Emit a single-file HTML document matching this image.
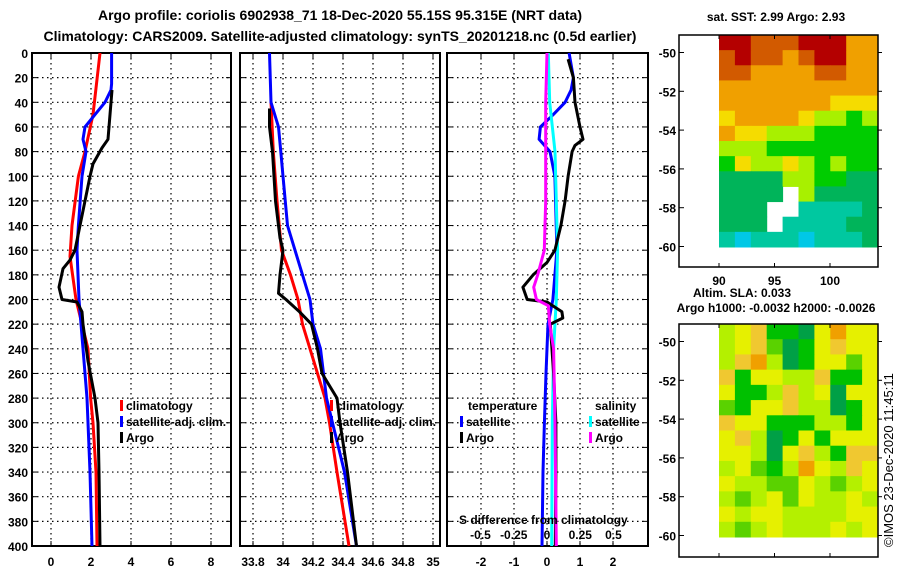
<!DOCTYPE html>
<html><head><meta charset="utf-8">
<style>
body{margin:0;background:#fff;}
svg{display:block;font-family:"Liberation Sans",sans-serif;font-weight:bold;}
text{fill:#000;}
</style></head>
<body>
<svg id="c" width="900" height="580" viewBox="0 0 900 580" xmlns="http://www.w3.org/2000/svg">
<text x="340" y="20" font-size="14" text-anchor="middle">Argo profile: coriolis 6902938_71 18-Dec-2020 55.15S 95.315E (NRT data)</text>
<text x="340" y="41" font-size="14" text-anchor="middle">Climatology: CARS2009. Satellite-adjusted climatology: synTS_20201218.nc (0.5d earlier)</text>
<g id="plots"></g>
</svg>
<script>
// ---- data ----
const tempClimDepth=[0,50,80,100,140,165,200,240,280,300,340,400];
const tempClim=[2.45,2.1,1.7,1.37,1.05,0.95,1.25,1.85,1.98,2.1,2.25,2.3];
const tempSatDepth=[0,25,30,40,50,60,70,80,100,140,160,200,240,280,300,340,400];
const tempSat=[3.03,3.03,3.0,2.7,2.2,1.7,1.6,1.75,1.55,1.37,1.3,1.4,1.6,1.8,1.85,1.95,2.05];
const tempArgoDepth=[30,50,70,77,90,100,120,140,160,168,175,190,200,202,210,220,250,280,300,340,400];
const tempArgo=[3.05,2.95,2.85,2.55,2.1,1.95,1.7,1.45,1.2,0.95,0.6,0.4,0.55,1.3,1.55,1.6,1.85,2.2,2.35,2.4,2.45];

const salSatDepth=[0,40,60,80,100,140,160,200,220,240,280,300,340,400];
const salSat=[33.91,33.92,33.97,33.985,34.0,34.03,34.08,34.18,34.2,34.25,34.29,34.33,34.41,34.49];
const salClimDepth=[40,80,120,160,180,200,220,240,260,280,300,340,400];
const salClim=[33.92,33.935,33.96,33.99,34.05,34.1,34.13,34.18,34.23,34.28,34.31,34.36,34.44];
const salArgoDepth=[45,60,80,120,150,160,180,195,200,210,220,240,260,280,300,340,400];
const salArgo=[33.91,33.91,33.93,33.95,33.98,34.0,33.98,33.97,34.02,34.11,34.19,34.23,34.26,34.36,34.38,34.43,34.49];

const dTsatDepth=[0,20,30,40,50,60,70,80,100,160,200,220,260,300,340,400];
const dTsat=[0.67,0.8,0.73,0.55,0.19,-0.2,-0.24,0.09,0.24,0.3,0.18,0.03,-0.03,-0.08,-0.12,-0.15];
const dTargoDepth=[5,20,40,60,70,75,80,100,120,140,160,170,180,190,200,202,210,215,220,260,300,340,400];
const dTargo=[0.64,0.8,0.85,1.0,1.09,0.85,0.76,0.64,0.55,0.42,0.24,0.0,-0.42,-0.73,-0.6,0.0,0.45,0.48,0.1,0.2,0.27,0.27,0.25];
const dSsatDepth=[0,40,80,120,160,200,240,300,400];
const dSsat=[0.01,0.02,0.06,0.07,0.08,0.07,0.05,0.04,0.035];
const dSargoDepth=[0,40,120,160,180,190,200,205,220,240,300,400];
const dSargo=[0,-0.01,-0.01,-0.02,-0.07,-0.1,-0.08,0.01,0.02,0.05,0.06,0.07];

const depthTicks=[0,20,40,60,80,100,120,140,160,180,200,220,240,260,280,300,320,340,360,380,400];
const tTicks=[0,2,4,6,8];
const sTicks=[33.8,34,34.2,34.4,34.6,34.8,35];
const sTickLabels=["33.8","34","34.2","34.4","34.6","34.8","35"];
const dTicks=[-2,-1,0,1,2];
const dsTicks=[-0.5,-0.25,0,0.25,0.5];
const dsTickLabels=["-0.5","-0.25","0","0.25","0.5"];

const sstGrid=[
[0,0,1,1,1,0,0,0,2,2],
[1,0,1,1,2,1,0,0,2,2],
[1,1,2,2,2,2,1,1,2,2],
[2,2,2,2,2,2,2,2,2,2],
[2,2,2,2,2,2,2,3,3,3],
[3,2,2,2,2,3,4,4,5,4],
[2,3,3,4,4,4,5,5,5,5],
[4,4,4,5,5,5,5,5,5,5],
[5,3,4,4,3,4,5,4,5,5],
[6,6,6,6,4,4,5,5,6,6],
[6,6,6,6,-1,4,6,6,6,6],
[6,6,6,-1,-1,7,7,7,7,6],
[6,6,6,-1,7,7,7,7,6,6],
[7,8,7,7,7,8,7,7,7,6]];
const slaGrid=[
[3,2,1,5,5,6,2,0,2,2],
[3,2,1,4,6,5,2,1,2,2],
[3,1,0,3,6,5,2,2,4,2],
[1,5,2,2,3,3,1,5,5,2],
[2,5,5,3,1,3,2,6,2,2],
[4,5,2,2,1,3,3,6,5,2],
[1,2,2,5,5,5,3,3,5,2],
[2,1,3,6,5,2,5,2,2,2],
[2,2,3,6,2,1,3,5,1,1],
[3,2,4,5,3,0,2,3,1,2],
[2,3,3,4,4,2,3,4,3,2],
[3,4,3,2,4,2,3,3,2,3],
[2,3,2,2,3,3,3,3,2,2],
[3,4,3,2,3,3,3,2,3,2]];
const latTicks=[-50,-52,-54,-56,-58,-60];
const lonTicks=[90,95,100];

// ---- drawing ----
const NS='http://www.w3.org/2000/svg';
const root=document.getElementById('plots');
function mk(tag,attrs,parent){const e=document.createElementNS(NS,tag);for(const k in attrs)e.setAttribute(k,attrs[k]);(parent||root).appendChild(e);return e;}
const Y0=53,Y1=546;
const yD=d=>Y0+(d/400)*(Y1-Y0);

function panel(name,x0,x1,xs,xt,xl){
  const g=mk('g',{});
  
  
  depthTicks.forEach(d=>{if(d>0&&d<400)mk('line',{x1:x0,x2:x1,y1:yD(d),y2:yD(d),stroke:'#000','stroke-width':1.2,'stroke-dasharray':'1.5 3.5'},g);
    mk('line',{x1:x0,x2:x0+5,y1:yD(d),y2:yD(d),stroke:'#000','stroke-width':1},g);
    mk('line',{x1:x1-5,x2:x1,y1:yD(d),y2:yD(d),stroke:'#000','stroke-width':1},g);});
  xt.forEach((v,i)=>{const x=xs(v);mk('line',{x1:x,x2:x,y1:Y0,y2:Y1,stroke:'#000','stroke-width':1.2,'stroke-dasharray':'1.5 3.5'},g);
    mk('line',{x1:x,x2:x,y1:Y1-5,y2:Y1,stroke:'#000'},g);mk('line',{x1:x,x2:x,y1:Y0,y2:Y0+5,stroke:'#000'},g);
    const t=mk('text',{x:x,y:566,'font-size':12,'text-anchor':'middle'},g);t.textContent=xl[i];
    
    });
  mk('rect',{x:x0,y:Y0,width:x1-x0,height:Y1-Y0,fill:'none',stroke:'#000','stroke-width':2},g);
  return g;
}
function line(g,xs,depths,vals,color,name){
  const pts=depths.map((d,i)=>xs(vals[i]).toFixed(1)+','+yD(d).toFixed(1)).join(' ');
  const p=mk('polyline',{points:pts,fill:'none',stroke:color,'stroke-width':3,'stroke-linejoin':'round'},g);
  
  
}
function txt(g,x,y,s,name,anchor,size){const t=mk('text',{x:x,y:y,'font-size':size||12,'text-anchor':anchor||'start'},g);t.textContent=s;
  
  return t;}
function legend(g,x,y,color,label,name){const r=mk('rect',{x:x,y:y-10,width:3,height:11,fill:color},g);txt(g,x+6,y,label,name);}

// y labels
depthTicks.forEach(d=>{const t=mk('text',{x:28,y:yD(d)+5,'font-size':12,'text-anchor':'end'});t.textContent=d;
  
  });

// Panel 1
const xT=v=>51+v*20;
const g1=panel('temperature-panel',32,231,xT,tTicks,tTicks.map(String));
line(g1,xT,tempClimDepth,tempClim,'#f00','temp-climatology-line');
line(g1,xT,tempSatDepth,tempSat,'#00f','temp-satellite-line');
line(g1,xT,tempArgoDepth,tempArgo,'#000','temp-argo-line');
legend(g1,120,410,'#f00','climatology','legend-climatology');
legend(g1,120,426,'#00f','satellite-adj. clim.','legend-satellite');
legend(g1,120,442,'#000','Argo','legend-argo');

// Panel 2
const xS=v=>253+(v-33.8)*150;
const g2=panel('salinity-panel',240,440,xS,sTicks,sTickLabels);
line(g2,xS,salClimDepth,salClim,'#f00','sal-climatology-line');
line(g2,xS,salSatDepth,salSat,'#00f','sal-satellite-line');
line(g2,xS,salArgoDepth,salArgo,'#000','sal-argo-line');
legend(g2,330,410,'#f00','climatology','legend-climatology');
legend(g2,330,426,'#00f','satellite-adj. clim.','legend-satellite');
legend(g2,330,442,'#000','Argo','legend-argo');

// Panel 3
const xDT=v=>547+v*33;
const xDS=v=>547+v*133;
const g3=panel('difference-panel',447,648,xDT,dTicks,dTicks.map(String));
line(g3,xDT,dTsatDepth,dTsat,'#00f','dT-satellite-line');
line(g3,xDS,dSsatDepth,dSsat,'#0ff','dS-satellite-line');
line(g3,xDT,dTargoDepth,dTargo,'#000','dT-argo-line');
line(g3,xDS,dSargoDepth,dSargo,'#f0f','dS-argo-line');
txt(g3,468,410,'temperature','legend-temperature-header');
legend(g3,460,426,'#00f','satellite','legend-temp-satellite');
legend(g3,460,442,'#000','Argo','legend-temp-argo');
txt(g3,595,410,'salinity','legend-salinity-header');
legend(g3,589,426,'#0ff','satellite','legend-sal-satellite');
legend(g3,589,442,'#f0f','Argo','legend-sal-argo');
txt(g3,459,524,'S difference from climatology','s-axis-title');
dsTicks.forEach((v,i)=>txt(g3,xDS(v),539,dsTickLabels[i],'s-tick-label','middle'));

// Maps
const sstColors=['#b40000','#d25a00','#f0a000','#f5dc00','#a8f000','#00cc00','#00b45a','#00c8a0','#00c8e6'];
const slaColors=['#f0a000','#f0c830','#e6f000','#b4f000','#5ad200','#00c000','#00a046'];
function map(name,grid,colors,top,imgBottom,boxBottom,showLon){
  const g=mk('g',{});
  
  
  const x0=719,x1=878,rows=grid.length,cols=grid[0].length;
  const cw=(x1-x0)/cols,rh=(imgBottom-top)/rows;
  grid.forEach((row,r)=>row.forEach((v,c)=>{if(v<0)return;
    const rc=mk('rect',{x:x0+c*cw,y:top+r*rh,width:cw+0.5,height:rh+0.5,fill:colors[v]},g);
    
    }));
  mk('rect',{x:679,y:top,width:199,height:boxBottom-top,fill:'none',stroke:'#000','stroke-width':1.5},g);
  latTicks.forEach(v=>{const y=top+17.5+(-50-v)*19.4;
    mk('line',{x1:679,x2:684,y1:y,y2:y,stroke:'#000'},g);
    mk('line',{x1:878,x2:882,y1:y,y2:y,stroke:'#000'},g);
    txt(g,676,y+5,String(v),'lat-tick-label','end',12);});
  lonTicks.forEach(v=>{const x=719+(v-90)*11.1;
    mk('line',{x1:x,x2:x,y1:boxBottom-4,y2:boxBottom,stroke:'#000'},g);
    mk('line',{x1:x,x2:x,y1:top,y2:top+4,stroke:'#000'},g);
    if(showLon)txt(g,x,boxBottom+18,String(v),'lon-tick-label','middle',12);});
  return g;
}
const m1=map('sst-map',sstGrid,sstColors,35,247,267,true);
txt(m1,776,21,'sat. SST: 2.99 Argo: 2.93','sst-map-title','middle',12);
const m2=map('sla-map',slaGrid,slaColors,324,537,557,false);
txt(m2,742,297,'Altim. SLA: 0.033','sla-map-title','middle',12);
txt(m2,776,312,'Argo h1000: -0.0032 h2000: -0.0026','sla-map-subtitle','middle',12);
const ts=txt(root,0,0,'©IMOS 23-Dec-2020 11:45:11','timestamp','start',13);
ts.setAttribute('font-weight','normal');
ts.setAttribute('transform','translate(893,547) rotate(-90)');
</script>
</body></html>
